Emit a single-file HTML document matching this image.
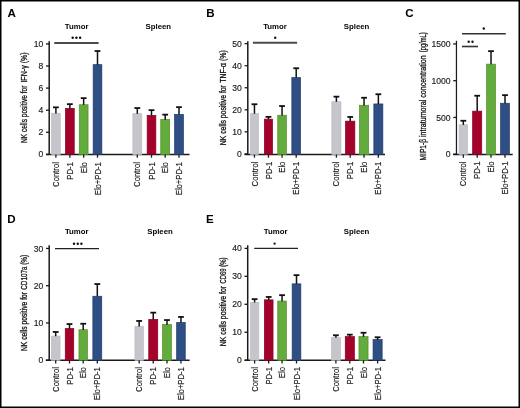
<!DOCTYPE html>
<html><head><meta charset="utf-8"><style>
html,body{margin:0;padding:0;background:#fff;}
body{width:520px;height:408px;overflow:hidden;}
svg{display:block;will-change:transform;-webkit-font-smoothing:antialiased;font-family:"Liberation Sans",sans-serif;}
</style></head><body>
<svg width="520" height="408" viewBox="0 0 520 408">
<rect x="0" y="0" width="520" height="408" fill="#fff"/>
<text x="7.50" y="16.80" font-size="11.6" text-anchor="start" font-weight="bold" fill="#000">A</text>
<line x1="49.20" y1="41.30" x2="49.20" y2="155.10" stroke="#1a1a1a" stroke-width="1.5"/>
<line x1="46.00" y1="154.50" x2="189.50" y2="154.50" stroke="#1a1a1a" stroke-width="1.5"/>
<line x1="46.00" y1="154.40" x2="49.20" y2="154.40" stroke="#1a1a1a" stroke-width="1.3"/>
<text x="43.30" y="157.45" font-size="8.6" text-anchor="end" fill="#222" stroke="#222" stroke-width="0.15">0</text>
<line x1="46.00" y1="132.30" x2="49.20" y2="132.30" stroke="#1a1a1a" stroke-width="1.3"/>
<text x="43.30" y="135.35" font-size="8.6" text-anchor="end" fill="#222" stroke="#222" stroke-width="0.15">2</text>
<line x1="46.00" y1="110.20" x2="49.20" y2="110.20" stroke="#1a1a1a" stroke-width="1.3"/>
<text x="43.30" y="113.25" font-size="8.6" text-anchor="end" fill="#222" stroke="#222" stroke-width="0.15">4</text>
<line x1="46.00" y1="88.10" x2="49.20" y2="88.10" stroke="#1a1a1a" stroke-width="1.3"/>
<text x="43.30" y="91.15" font-size="8.6" text-anchor="end" fill="#222" stroke="#222" stroke-width="0.15">6</text>
<line x1="46.00" y1="66.00" x2="49.20" y2="66.00" stroke="#1a1a1a" stroke-width="1.3"/>
<text x="43.30" y="69.05" font-size="8.6" text-anchor="end" fill="#222" stroke="#222" stroke-width="0.15">8</text>
<line x1="46.00" y1="43.90" x2="49.20" y2="43.90" stroke="#1a1a1a" stroke-width="1.3"/>
<text x="43.30" y="46.95" font-size="8.6" text-anchor="end" fill="#222" stroke="#222" stroke-width="0.15">10</text>
<rect x="51.55" y="113.25" width="8.70" height="41.25" fill="#c6c5cb" stroke="#bdbcc2" stroke-width="0.7"/>
<line x1="55.90" y1="107.30" x2="55.90" y2="113.40" stroke="#111" stroke-width="1.5"/>
<line x1="53.00" y1="107.35" x2="58.80" y2="107.35" stroke="#111" stroke-width="1.8"/>
<line x1="55.90" y1="154.50" x2="55.90" y2="157.70" stroke="#1a1a1a" stroke-width="1.3"/>
<text x="59.00" y="162.10" font-size="9.2" text-anchor="end" transform="rotate(-90 59.00 162.10) translate(59.00 162.10) scale(0.838 1) translate(-59.00 -162.10)" fill="#1a1a1a" stroke="#1a1a1a" stroke-width="0.18">Control</text>
<rect x="65.45" y="108.35" width="8.80" height="46.15" fill="#a5022b" stroke="#85001f" stroke-width="0.7"/>
<line x1="69.85" y1="104.10" x2="69.85" y2="108.50" stroke="#111" stroke-width="1.5"/>
<line x1="66.95" y1="104.15" x2="72.75" y2="104.15" stroke="#111" stroke-width="1.8"/>
<line x1="69.85" y1="154.50" x2="69.85" y2="157.70" stroke="#1a1a1a" stroke-width="1.3"/>
<text x="72.95" y="162.10" font-size="9.2" text-anchor="end" transform="rotate(-90 72.95 162.10) translate(72.95 162.10) scale(0.838 1) translate(-72.95 -162.10)" fill="#1a1a1a" stroke="#1a1a1a" stroke-width="0.18">PD-1</text>
<rect x="79.25" y="104.75" width="8.80" height="49.75" fill="#64ab3e" stroke="#4f8f2c" stroke-width="0.7"/>
<line x1="83.65" y1="98.10" x2="83.65" y2="104.90" stroke="#111" stroke-width="1.5"/>
<line x1="80.75" y1="98.15" x2="86.55" y2="98.15" stroke="#111" stroke-width="1.8"/>
<line x1="83.65" y1="154.50" x2="83.65" y2="157.70" stroke="#1a1a1a" stroke-width="1.3"/>
<text x="86.75" y="162.10" font-size="9.2" text-anchor="end" transform="rotate(-90 86.75 162.10) translate(86.75 162.10) scale(0.838 1) translate(-86.75 -162.10)" fill="#1a1a1a" stroke="#1a1a1a" stroke-width="0.18">Elo</text>
<rect x="93.15" y="64.65" width="8.70" height="89.85" fill="#2e4e84" stroke="#213d6c" stroke-width="0.7"/>
<line x1="97.50" y1="51.00" x2="97.50" y2="64.80" stroke="#111" stroke-width="1.5"/>
<line x1="94.60" y1="51.05" x2="100.40" y2="51.05" stroke="#111" stroke-width="1.8"/>
<line x1="97.50" y1="154.50" x2="97.50" y2="157.70" stroke="#1a1a1a" stroke-width="1.3"/>
<text x="100.60" y="162.10" font-size="9.2" text-anchor="end" transform="rotate(-90 100.60 162.10) translate(100.60 162.10) scale(0.838 1) translate(-100.60 -162.10)" fill="#1a1a1a" stroke="#1a1a1a" stroke-width="0.18">Elo+PD-1</text>
<rect x="132.85" y="113.65" width="8.90" height="40.85" fill="#c6c5cb" stroke="#bdbcc2" stroke-width="0.7"/>
<line x1="137.30" y1="108.00" x2="137.30" y2="113.80" stroke="#111" stroke-width="1.5"/>
<line x1="134.40" y1="108.05" x2="140.20" y2="108.05" stroke="#111" stroke-width="1.8"/>
<line x1="137.30" y1="154.50" x2="137.30" y2="157.70" stroke="#1a1a1a" stroke-width="1.3"/>
<text x="140.40" y="162.10" font-size="9.2" text-anchor="end" transform="rotate(-90 140.40 162.10) translate(140.40 162.10) scale(0.838 1) translate(-140.40 -162.10)" fill="#1a1a1a" stroke="#1a1a1a" stroke-width="0.18">Control</text>
<rect x="147.15" y="115.35" width="8.70" height="39.15" fill="#a5022b" stroke="#85001f" stroke-width="0.7"/>
<line x1="151.50" y1="110.10" x2="151.50" y2="115.50" stroke="#111" stroke-width="1.5"/>
<line x1="148.60" y1="110.15" x2="154.40" y2="110.15" stroke="#111" stroke-width="1.8"/>
<line x1="151.50" y1="154.50" x2="151.50" y2="157.70" stroke="#1a1a1a" stroke-width="1.3"/>
<text x="154.60" y="162.10" font-size="9.2" text-anchor="end" transform="rotate(-90 154.60 162.10) translate(154.60 162.10) scale(0.838 1) translate(-154.60 -162.10)" fill="#1a1a1a" stroke="#1a1a1a" stroke-width="0.18">PD-1</text>
<rect x="160.75" y="119.55" width="8.90" height="34.95" fill="#64ab3e" stroke="#4f8f2c" stroke-width="0.7"/>
<line x1="165.20" y1="114.60" x2="165.20" y2="119.70" stroke="#111" stroke-width="1.5"/>
<line x1="162.30" y1="114.65" x2="168.10" y2="114.65" stroke="#111" stroke-width="1.8"/>
<line x1="165.20" y1="154.50" x2="165.20" y2="157.70" stroke="#1a1a1a" stroke-width="1.3"/>
<text x="168.30" y="162.10" font-size="9.2" text-anchor="end" transform="rotate(-90 168.30 162.10) translate(168.30 162.10) scale(0.838 1) translate(-168.30 -162.10)" fill="#1a1a1a" stroke="#1a1a1a" stroke-width="0.18">Elo</text>
<rect x="174.55" y="114.45" width="8.90" height="40.05" fill="#2e4e84" stroke="#213d6c" stroke-width="0.7"/>
<line x1="179.00" y1="107.10" x2="179.00" y2="114.60" stroke="#111" stroke-width="1.5"/>
<line x1="176.10" y1="107.15" x2="181.90" y2="107.15" stroke="#111" stroke-width="1.8"/>
<line x1="179.00" y1="154.50" x2="179.00" y2="157.70" stroke="#1a1a1a" stroke-width="1.3"/>
<text x="182.10" y="162.10" font-size="9.2" text-anchor="end" transform="rotate(-90 182.10 162.10) translate(182.10 162.10) scale(0.838 1) translate(-182.10 -162.10)" fill="#1a1a1a" stroke="#1a1a1a" stroke-width="0.18">Elo+PD-1</text>
<text x="76.60" y="29.10" font-size="7.8" text-anchor="middle" font-weight="bold" fill="#000">Tumor</text>
<text x="158.30" y="29.10" font-size="7.8" text-anchor="middle" font-weight="bold" fill="#000">Spleen</text>
<line x1="54.30" y1="42.90" x2="98.60" y2="42.90" stroke="#4a4a4a" stroke-width="2.0"/>
<circle cx="72.70" cy="37.80" r="1.25" fill="#111"/>
<circle cx="76.40" cy="37.80" r="1.25" fill="#111"/>
<circle cx="80.10" cy="37.80" r="1.25" fill="#111"/>
<text transform="translate(27.00 143.00) rotate(-90) scale(0.6894 1)" font-size="9.5" stroke="#111" stroke-width="0.3" fill="#111">NK cells positive for</text>
<text transform="translate(27.00 82.60) rotate(-90) scale(0.7477 1)" font-size="9.5" stroke="#111" stroke-width="0.3" fill="#111">IFN-γ (%)</text>
<text x="206.30" y="16.90" font-size="11.6" text-anchor="start" font-weight="bold" fill="#000">B</text>
<line x1="247.80" y1="41.20" x2="247.80" y2="155.10" stroke="#1a1a1a" stroke-width="1.5"/>
<line x1="244.50" y1="154.50" x2="385.00" y2="154.50" stroke="#1a1a1a" stroke-width="1.5"/>
<line x1="244.60" y1="153.90" x2="247.80" y2="153.90" stroke="#1a1a1a" stroke-width="1.3"/>
<text x="241.90" y="156.95" font-size="8.6" text-anchor="end" fill="#222" stroke="#222" stroke-width="0.15">0</text>
<line x1="244.60" y1="131.85" x2="247.80" y2="131.85" stroke="#1a1a1a" stroke-width="1.3"/>
<text x="241.90" y="134.90" font-size="8.6" text-anchor="end" fill="#222" stroke="#222" stroke-width="0.15">10</text>
<line x1="244.60" y1="109.80" x2="247.80" y2="109.80" stroke="#1a1a1a" stroke-width="1.3"/>
<text x="241.90" y="112.85" font-size="8.6" text-anchor="end" fill="#222" stroke="#222" stroke-width="0.15">20</text>
<line x1="244.60" y1="87.75" x2="247.80" y2="87.75" stroke="#1a1a1a" stroke-width="1.3"/>
<text x="241.90" y="90.80" font-size="8.6" text-anchor="end" fill="#222" stroke="#222" stroke-width="0.15">30</text>
<line x1="244.60" y1="65.70" x2="247.80" y2="65.70" stroke="#1a1a1a" stroke-width="1.3"/>
<text x="241.90" y="68.75" font-size="8.6" text-anchor="end" fill="#222" stroke="#222" stroke-width="0.15">40</text>
<line x1="244.60" y1="43.65" x2="247.80" y2="43.65" stroke="#1a1a1a" stroke-width="1.3"/>
<text x="241.90" y="46.70" font-size="8.6" text-anchor="end" fill="#222" stroke="#222" stroke-width="0.15">50</text>
<rect x="250.35" y="113.55" width="8.20" height="40.95" fill="#c6c5cb" stroke="#bdbcc2" stroke-width="0.7"/>
<line x1="254.45" y1="104.20" x2="254.45" y2="113.70" stroke="#111" stroke-width="1.5"/>
<line x1="251.55" y1="104.25" x2="257.35" y2="104.25" stroke="#111" stroke-width="1.8"/>
<line x1="254.45" y1="154.50" x2="254.45" y2="157.70" stroke="#1a1a1a" stroke-width="1.3"/>
<text x="257.55" y="161.60" font-size="9.2" text-anchor="end" transform="rotate(-90 257.55 161.60) translate(257.55 161.60) scale(0.838 1) translate(-257.55 -161.60)" fill="#1a1a1a" stroke="#1a1a1a" stroke-width="0.18">Control</text>
<rect x="264.35" y="119.15" width="8.20" height="35.35" fill="#a5022b" stroke="#85001f" stroke-width="0.7"/>
<line x1="268.45" y1="116.80" x2="268.45" y2="119.30" stroke="#111" stroke-width="1.5"/>
<line x1="265.55" y1="116.85" x2="271.35" y2="116.85" stroke="#111" stroke-width="1.8"/>
<line x1="268.45" y1="154.50" x2="268.45" y2="157.70" stroke="#1a1a1a" stroke-width="1.3"/>
<text x="271.55" y="161.60" font-size="9.2" text-anchor="end" transform="rotate(-90 271.55 161.60) translate(271.55 161.60) scale(0.838 1) translate(-271.55 -161.60)" fill="#1a1a1a" stroke="#1a1a1a" stroke-width="0.18">PD-1</text>
<rect x="277.75" y="115.25" width="8.60" height="39.25" fill="#64ab3e" stroke="#4f8f2c" stroke-width="0.7"/>
<line x1="282.05" y1="106.00" x2="282.05" y2="115.40" stroke="#111" stroke-width="1.5"/>
<line x1="279.15" y1="106.05" x2="284.95" y2="106.05" stroke="#111" stroke-width="1.8"/>
<line x1="282.05" y1="154.50" x2="282.05" y2="157.70" stroke="#1a1a1a" stroke-width="1.3"/>
<text x="285.15" y="161.60" font-size="9.2" text-anchor="end" transform="rotate(-90 285.15 161.60) translate(285.15 161.60) scale(0.838 1) translate(-285.15 -161.60)" fill="#1a1a1a" stroke="#1a1a1a" stroke-width="0.18">Elo</text>
<rect x="291.85" y="77.55" width="8.70" height="76.95" fill="#2e4e84" stroke="#213d6c" stroke-width="0.7"/>
<line x1="296.20" y1="68.20" x2="296.20" y2="77.70" stroke="#111" stroke-width="1.5"/>
<line x1="293.30" y1="68.25" x2="299.10" y2="68.25" stroke="#111" stroke-width="1.8"/>
<line x1="296.20" y1="154.50" x2="296.20" y2="157.70" stroke="#1a1a1a" stroke-width="1.3"/>
<text x="299.30" y="161.60" font-size="9.2" text-anchor="end" transform="rotate(-90 299.30 161.60) translate(299.30 161.60) scale(0.838 1) translate(-299.30 -161.60)" fill="#1a1a1a" stroke="#1a1a1a" stroke-width="0.18">Elo+PD-1</text>
<rect x="331.85" y="101.75" width="9.10" height="52.75" fill="#c6c5cb" stroke="#bdbcc2" stroke-width="0.7"/>
<line x1="336.40" y1="96.60" x2="336.40" y2="101.90" stroke="#111" stroke-width="1.5"/>
<line x1="333.50" y1="96.65" x2="339.30" y2="96.65" stroke="#111" stroke-width="1.8"/>
<line x1="336.40" y1="154.50" x2="336.40" y2="157.70" stroke="#1a1a1a" stroke-width="1.3"/>
<text x="339.50" y="161.60" font-size="9.2" text-anchor="end" transform="rotate(-90 339.50 161.60) translate(339.50 161.60) scale(0.838 1) translate(-339.50 -161.60)" fill="#1a1a1a" stroke="#1a1a1a" stroke-width="0.18">Control</text>
<rect x="345.55" y="121.15" width="9.30" height="33.35" fill="#a5022b" stroke="#85001f" stroke-width="0.7"/>
<line x1="350.20" y1="116.90" x2="350.20" y2="121.30" stroke="#111" stroke-width="1.5"/>
<line x1="347.30" y1="116.95" x2="353.10" y2="116.95" stroke="#111" stroke-width="1.8"/>
<line x1="350.20" y1="154.50" x2="350.20" y2="157.70" stroke="#1a1a1a" stroke-width="1.3"/>
<text x="353.30" y="161.60" font-size="9.2" text-anchor="end" transform="rotate(-90 353.30 161.60) translate(353.30 161.60) scale(0.838 1) translate(-353.30 -161.60)" fill="#1a1a1a" stroke="#1a1a1a" stroke-width="0.18">PD-1</text>
<rect x="359.45" y="105.25" width="9.20" height="49.25" fill="#64ab3e" stroke="#4f8f2c" stroke-width="0.7"/>
<line x1="364.05" y1="97.70" x2="364.05" y2="105.40" stroke="#111" stroke-width="1.5"/>
<line x1="361.15" y1="97.75" x2="366.95" y2="97.75" stroke="#111" stroke-width="1.8"/>
<line x1="364.05" y1="154.50" x2="364.05" y2="157.70" stroke="#1a1a1a" stroke-width="1.3"/>
<text x="367.15" y="161.60" font-size="9.2" text-anchor="end" transform="rotate(-90 367.15 161.60) translate(367.15 161.60) scale(0.838 1) translate(-367.15 -161.60)" fill="#1a1a1a" stroke="#1a1a1a" stroke-width="0.18">Elo</text>
<rect x="373.85" y="103.95" width="9.00" height="50.55" fill="#2e4e84" stroke="#213d6c" stroke-width="0.7"/>
<line x1="378.35" y1="94.20" x2="378.35" y2="104.10" stroke="#111" stroke-width="1.5"/>
<line x1="375.45" y1="94.25" x2="381.25" y2="94.25" stroke="#111" stroke-width="1.8"/>
<line x1="378.35" y1="154.50" x2="378.35" y2="157.70" stroke="#1a1a1a" stroke-width="1.3"/>
<text x="381.45" y="161.60" font-size="9.2" text-anchor="end" transform="rotate(-90 381.45 161.60) translate(381.45 161.60) scale(0.838 1) translate(-381.45 -161.60)" fill="#1a1a1a" stroke="#1a1a1a" stroke-width="0.18">Elo+PD-1</text>
<text x="275.00" y="29.10" font-size="7.8" text-anchor="middle" font-weight="bold" fill="#000">Tumor</text>
<text x="356.60" y="29.10" font-size="7.8" text-anchor="middle" font-weight="bold" fill="#000">Spleen</text>
<line x1="252.90" y1="42.80" x2="297.10" y2="42.80" stroke="#4a4a4a" stroke-width="1.9"/>
<circle cx="275.20" cy="37.70" r="1.2" fill="#111"/>
<text transform="translate(225.80 145.20) rotate(-90) scale(0.7217 1)" font-size="9.5" stroke="#111" stroke-width="0.3" fill="#111">NK cells positive for</text>
<text transform="translate(225.80 82.80) rotate(-90) scale(0.7317 1)" font-size="9.5" stroke="#111" stroke-width="0.3" fill="#111">TNF-α (%)</text>
<text x="405.30" y="17.20" font-size="11.6" text-anchor="start" font-weight="bold" fill="#000">C</text>
<line x1="456.45" y1="40.80" x2="456.45" y2="155.05" stroke="#1a1a1a" stroke-width="1.25"/>
<line x1="453.00" y1="154.45" x2="512.70" y2="154.45" stroke="#1a1a1a" stroke-width="1.5"/>
<line x1="453.25" y1="154.20" x2="456.45" y2="154.20" stroke="#1a1a1a" stroke-width="1.3"/>
<text x="450.55" y="157.25" font-size="8.6" text-anchor="end" fill="#222" stroke="#222" stroke-width="0.15">0</text>
<line x1="453.25" y1="117.45" x2="456.45" y2="117.45" stroke="#1a1a1a" stroke-width="1.3"/>
<text x="450.55" y="120.50" font-size="8.6" text-anchor="end" fill="#222" stroke="#222" stroke-width="0.15">500</text>
<line x1="453.25" y1="80.70" x2="456.45" y2="80.70" stroke="#1a1a1a" stroke-width="1.3"/>
<text x="450.55" y="83.75" font-size="8.6" text-anchor="end" fill="#222" stroke="#222" stroke-width="0.15">1000</text>
<line x1="453.25" y1="43.95" x2="456.45" y2="43.95" stroke="#1a1a1a" stroke-width="1.3"/>
<text x="450.55" y="47.00" font-size="8.6" text-anchor="end" fill="#222" stroke="#222" stroke-width="0.15">1500</text>
<rect x="459.10" y="124.75" width="8.45" height="29.70" fill="#c6c5cb" stroke="#bdbcc2" stroke-width="0.7"/>
<line x1="463.32" y1="120.70" x2="463.32" y2="124.90" stroke="#111" stroke-width="1.5"/>
<line x1="460.43" y1="120.75" x2="466.22" y2="120.75" stroke="#111" stroke-width="1.8"/>
<line x1="463.32" y1="154.45" x2="463.32" y2="157.65" stroke="#1a1a1a" stroke-width="1.3"/>
<text x="466.43" y="161.45" font-size="9.2" text-anchor="end" transform="rotate(-90 466.43 161.45) translate(466.43 161.45) scale(0.838 1) translate(-466.43 -161.45)" fill="#1a1a1a" stroke="#1a1a1a" stroke-width="0.18">Control</text>
<rect x="472.65" y="111.15" width="9.10" height="43.30" fill="#a5022b" stroke="#85001f" stroke-width="0.7"/>
<line x1="477.20" y1="95.70" x2="477.20" y2="111.30" stroke="#111" stroke-width="1.5"/>
<line x1="474.30" y1="95.75" x2="480.10" y2="95.75" stroke="#111" stroke-width="1.8"/>
<line x1="477.20" y1="154.45" x2="477.20" y2="157.65" stroke="#1a1a1a" stroke-width="1.3"/>
<text x="480.30" y="161.45" font-size="9.2" text-anchor="end" transform="rotate(-90 480.30 161.45) translate(480.30 161.45) scale(0.838 1) translate(-480.30 -161.45)" fill="#1a1a1a" stroke="#1a1a1a" stroke-width="0.18">PD-1</text>
<rect x="486.60" y="64.15" width="8.85" height="90.30" fill="#64ab3e" stroke="#4f8f2c" stroke-width="0.7"/>
<line x1="491.02" y1="51.10" x2="491.02" y2="64.30" stroke="#111" stroke-width="1.5"/>
<line x1="488.12" y1="51.15" x2="493.92" y2="51.15" stroke="#111" stroke-width="1.8"/>
<line x1="491.02" y1="154.45" x2="491.02" y2="157.65" stroke="#1a1a1a" stroke-width="1.3"/>
<text x="494.12" y="161.45" font-size="9.2" text-anchor="end" transform="rotate(-90 494.12 161.45) translate(494.12 161.45) scale(0.838 1) translate(-494.12 -161.45)" fill="#1a1a1a" stroke="#1a1a1a" stroke-width="0.18">Elo</text>
<rect x="500.55" y="103.25" width="8.90" height="51.20" fill="#2e4e84" stroke="#213d6c" stroke-width="0.7"/>
<line x1="505.00" y1="95.10" x2="505.00" y2="103.40" stroke="#111" stroke-width="1.5"/>
<line x1="502.10" y1="95.15" x2="507.90" y2="95.15" stroke="#111" stroke-width="1.8"/>
<line x1="505.00" y1="154.45" x2="505.00" y2="157.65" stroke="#1a1a1a" stroke-width="1.3"/>
<text x="508.10" y="161.45" font-size="9.2" text-anchor="end" transform="rotate(-90 508.10 161.45) translate(508.10 161.45) scale(0.838 1) translate(-508.10 -161.45)" fill="#1a1a1a" stroke="#1a1a1a" stroke-width="0.18">Elo+PD-1</text>
<line x1="462.00" y1="33.70" x2="505.80" y2="33.70" stroke="#333" stroke-width="1.6"/>
<circle cx="483.80" cy="28.50" r="1.2" fill="#111"/>
<line x1="462.00" y1="46.50" x2="478.00" y2="46.50" stroke="#333" stroke-width="1.6"/>
<circle cx="468.70" cy="41.70" r="1.2" fill="#111"/>
<circle cx="472.50" cy="41.70" r="1.2" fill="#111"/>
<text transform="translate(425.50 160.50) rotate(-90) scale(0.7018 1)" font-size="9.5" stroke="#111" stroke-width="0.3" fill="#111">MIP1-β</text>
<text transform="translate(425.50 137.00) rotate(-90) scale(0.7449 1)" font-size="9.5" stroke="#111" stroke-width="0.3" fill="#111">intratumoral concentration</text>
<text transform="translate(425.50 52.30) rotate(-90) scale(0.6133 1)" font-size="9.5" stroke="#111" stroke-width="0.3" fill="#111">(pg/mL)</text>
<text x="7.30" y="222.60" font-size="11.6" text-anchor="start" font-weight="bold" fill="#000">D</text>
<line x1="49.20" y1="245.30" x2="49.20" y2="360.90" stroke="#1a1a1a" stroke-width="1.5"/>
<line x1="45.80" y1="360.30" x2="189.60" y2="360.30" stroke="#1a1a1a" stroke-width="1.5"/>
<line x1="46.00" y1="360.20" x2="49.20" y2="360.20" stroke="#1a1a1a" stroke-width="1.3"/>
<text x="43.30" y="363.25" font-size="8.6" text-anchor="end" fill="#222" stroke="#222" stroke-width="0.15">0</text>
<line x1="46.00" y1="322.95" x2="49.20" y2="322.95" stroke="#1a1a1a" stroke-width="1.3"/>
<text x="43.30" y="326.00" font-size="8.6" text-anchor="end" fill="#222" stroke="#222" stroke-width="0.15">10</text>
<line x1="46.00" y1="285.70" x2="49.20" y2="285.70" stroke="#1a1a1a" stroke-width="1.3"/>
<text x="43.30" y="288.75" font-size="8.6" text-anchor="end" fill="#222" stroke="#222" stroke-width="0.15">20</text>
<line x1="46.00" y1="248.45" x2="49.20" y2="248.45" stroke="#1a1a1a" stroke-width="1.3"/>
<text x="43.30" y="251.50" font-size="8.6" text-anchor="end" fill="#222" stroke="#222" stroke-width="0.15">30</text>
<rect x="51.35" y="336.05" width="8.70" height="24.25" fill="#c6c5cb" stroke="#bdbcc2" stroke-width="0.7"/>
<line x1="55.70" y1="331.90" x2="55.70" y2="336.20" stroke="#111" stroke-width="1.5"/>
<line x1="52.80" y1="331.95" x2="58.60" y2="331.95" stroke="#111" stroke-width="1.8"/>
<line x1="55.70" y1="360.30" x2="55.70" y2="363.50" stroke="#1a1a1a" stroke-width="1.3"/>
<text x="58.80" y="367.10" font-size="9.2" text-anchor="end" transform="rotate(-90 58.80 367.10) translate(58.80 367.10) scale(0.838 1) translate(-58.80 -367.10)" fill="#1a1a1a" stroke="#1a1a1a" stroke-width="0.18">Control</text>
<rect x="65.25" y="328.55" width="8.50" height="31.75" fill="#a5022b" stroke="#85001f" stroke-width="0.7"/>
<line x1="69.50" y1="324.00" x2="69.50" y2="328.70" stroke="#111" stroke-width="1.5"/>
<line x1="66.60" y1="324.05" x2="72.40" y2="324.05" stroke="#111" stroke-width="1.8"/>
<line x1="69.50" y1="360.30" x2="69.50" y2="363.50" stroke="#1a1a1a" stroke-width="1.3"/>
<text x="72.60" y="367.10" font-size="9.2" text-anchor="end" transform="rotate(-90 72.60 367.10) translate(72.60 367.10) scale(0.838 1) translate(-72.60 -367.10)" fill="#1a1a1a" stroke="#1a1a1a" stroke-width="0.18">PD-1</text>
<rect x="78.95" y="329.75" width="8.50" height="30.55" fill="#64ab3e" stroke="#4f8f2c" stroke-width="0.7"/>
<line x1="83.20" y1="323.70" x2="83.20" y2="329.90" stroke="#111" stroke-width="1.5"/>
<line x1="80.30" y1="323.75" x2="86.10" y2="323.75" stroke="#111" stroke-width="1.8"/>
<line x1="83.20" y1="360.30" x2="83.20" y2="363.50" stroke="#1a1a1a" stroke-width="1.3"/>
<text x="86.30" y="367.10" font-size="9.2" text-anchor="end" transform="rotate(-90 86.30 367.10) translate(86.30 367.10) scale(0.838 1) translate(-86.30 -367.10)" fill="#1a1a1a" stroke="#1a1a1a" stroke-width="0.18">Elo</text>
<rect x="92.85" y="296.25" width="8.90" height="64.05" fill="#2e4e84" stroke="#213d6c" stroke-width="0.7"/>
<line x1="97.30" y1="284.00" x2="97.30" y2="296.40" stroke="#111" stroke-width="1.5"/>
<line x1="94.40" y1="284.05" x2="100.20" y2="284.05" stroke="#111" stroke-width="1.8"/>
<line x1="97.30" y1="360.30" x2="97.30" y2="363.50" stroke="#1a1a1a" stroke-width="1.3"/>
<text x="100.40" y="367.10" font-size="9.2" text-anchor="end" transform="rotate(-90 100.40 367.10) translate(100.40 367.10) scale(0.838 1) translate(-100.40 -367.10)" fill="#1a1a1a" stroke="#1a1a1a" stroke-width="0.18">Elo+PD-1</text>
<rect x="134.95" y="326.35" width="8.40" height="33.95" fill="#c6c5cb" stroke="#bdbcc2" stroke-width="0.7"/>
<line x1="139.15" y1="320.90" x2="139.15" y2="326.50" stroke="#111" stroke-width="1.5"/>
<line x1="136.25" y1="320.95" x2="142.05" y2="320.95" stroke="#111" stroke-width="1.8"/>
<line x1="139.15" y1="360.30" x2="139.15" y2="363.50" stroke="#1a1a1a" stroke-width="1.3"/>
<text x="142.25" y="367.10" font-size="9.2" text-anchor="end" transform="rotate(-90 142.25 367.10) translate(142.25 367.10) scale(0.838 1) translate(-142.25 -367.10)" fill="#1a1a1a" stroke="#1a1a1a" stroke-width="0.18">Control</text>
<rect x="148.75" y="319.35" width="9.00" height="40.95" fill="#a5022b" stroke="#85001f" stroke-width="0.7"/>
<line x1="153.25" y1="312.60" x2="153.25" y2="319.50" stroke="#111" stroke-width="1.5"/>
<line x1="150.35" y1="312.65" x2="156.15" y2="312.65" stroke="#111" stroke-width="1.8"/>
<line x1="153.25" y1="360.30" x2="153.25" y2="363.50" stroke="#1a1a1a" stroke-width="1.3"/>
<text x="156.35" y="367.10" font-size="9.2" text-anchor="end" transform="rotate(-90 156.35 367.10) translate(156.35 367.10) scale(0.838 1) translate(-156.35 -367.10)" fill="#1a1a1a" stroke="#1a1a1a" stroke-width="0.18">PD-1</text>
<rect x="162.55" y="324.55" width="8.90" height="35.75" fill="#64ab3e" stroke="#4f8f2c" stroke-width="0.7"/>
<line x1="167.00" y1="320.00" x2="167.00" y2="324.70" stroke="#111" stroke-width="1.5"/>
<line x1="164.10" y1="320.05" x2="169.90" y2="320.05" stroke="#111" stroke-width="1.8"/>
<line x1="167.00" y1="360.30" x2="167.00" y2="363.50" stroke="#1a1a1a" stroke-width="1.3"/>
<text x="170.10" y="367.10" font-size="9.2" text-anchor="end" transform="rotate(-90 170.10 367.10) translate(170.10 367.10) scale(0.838 1) translate(-170.10 -367.10)" fill="#1a1a1a" stroke="#1a1a1a" stroke-width="0.18">Elo</text>
<rect x="176.65" y="322.45" width="8.60" height="37.85" fill="#2e4e84" stroke="#213d6c" stroke-width="0.7"/>
<line x1="180.95" y1="316.90" x2="180.95" y2="322.60" stroke="#111" stroke-width="1.5"/>
<line x1="178.05" y1="316.95" x2="183.85" y2="316.95" stroke="#111" stroke-width="1.8"/>
<line x1="180.95" y1="360.30" x2="180.95" y2="363.50" stroke="#1a1a1a" stroke-width="1.3"/>
<text x="184.05" y="367.10" font-size="9.2" text-anchor="end" transform="rotate(-90 184.05 367.10) translate(184.05 367.10) scale(0.838 1) translate(-184.05 -367.10)" fill="#1a1a1a" stroke="#1a1a1a" stroke-width="0.18">Elo+PD-1</text>
<text x="76.75" y="234.10" font-size="7.8" text-anchor="middle" font-weight="bold" fill="#000">Tumor</text>
<text x="160.00" y="234.10" font-size="7.8" text-anchor="middle" font-weight="bold" fill="#000">Spleen</text>
<line x1="55.00" y1="248.60" x2="99.00" y2="248.60" stroke="#222" stroke-width="1.4"/>
<circle cx="74.00" cy="243.70" r="1.2" fill="#111"/>
<circle cx="77.70" cy="243.70" r="1.2" fill="#111"/>
<circle cx="81.40" cy="243.70" r="1.2" fill="#111"/>
<text transform="translate(26.60 351.00) rotate(-90) scale(0.7085 1)" font-size="9.5" stroke="#111" stroke-width="0.3" fill="#111">NK cells positive for</text>
<text transform="translate(26.60 289.70) rotate(-90) scale(0.6660 1)" font-size="9.5" stroke="#111" stroke-width="0.3" fill="#111">CD107a (%)</text>
<text x="206.00" y="222.60" font-size="11.6" text-anchor="start" font-weight="bold" fill="#000">E</text>
<line x1="247.70" y1="245.30" x2="247.70" y2="360.90" stroke="#1a1a1a" stroke-width="1.5"/>
<line x1="244.60" y1="360.30" x2="385.50" y2="360.30" stroke="#1a1a1a" stroke-width="1.5"/>
<line x1="244.50" y1="360.20" x2="247.70" y2="360.20" stroke="#1a1a1a" stroke-width="1.3"/>
<text x="241.80" y="363.25" font-size="8.6" text-anchor="end" fill="#222" stroke="#222" stroke-width="0.15">0</text>
<line x1="244.50" y1="332.25" x2="247.70" y2="332.25" stroke="#1a1a1a" stroke-width="1.3"/>
<text x="241.80" y="335.30" font-size="8.6" text-anchor="end" fill="#222" stroke="#222" stroke-width="0.15">10</text>
<line x1="244.50" y1="304.30" x2="247.70" y2="304.30" stroke="#1a1a1a" stroke-width="1.3"/>
<text x="241.80" y="307.35" font-size="8.6" text-anchor="end" fill="#222" stroke="#222" stroke-width="0.15">20</text>
<line x1="244.50" y1="276.35" x2="247.70" y2="276.35" stroke="#1a1a1a" stroke-width="1.3"/>
<text x="241.80" y="279.40" font-size="8.6" text-anchor="end" fill="#222" stroke="#222" stroke-width="0.15">30</text>
<line x1="244.50" y1="248.40" x2="247.70" y2="248.40" stroke="#1a1a1a" stroke-width="1.3"/>
<text x="241.80" y="251.45" font-size="8.6" text-anchor="end" fill="#222" stroke="#222" stroke-width="0.15">40</text>
<rect x="250.35" y="302.35" width="8.50" height="57.95" fill="#c6c5cb" stroke="#bdbcc2" stroke-width="0.7"/>
<line x1="254.60" y1="299.10" x2="254.60" y2="302.50" stroke="#111" stroke-width="1.5"/>
<line x1="251.70" y1="299.15" x2="257.50" y2="299.15" stroke="#111" stroke-width="1.8"/>
<line x1="254.60" y1="360.30" x2="254.60" y2="363.50" stroke="#1a1a1a" stroke-width="1.3"/>
<text x="257.70" y="367.00" font-size="9.2" text-anchor="end" transform="rotate(-90 257.70 367.00) translate(257.70 367.00) scale(0.838 1) translate(-257.70 -367.00)" fill="#1a1a1a" stroke="#1a1a1a" stroke-width="0.18">Control</text>
<rect x="264.35" y="299.85" width="8.70" height="60.45" fill="#a5022b" stroke="#85001f" stroke-width="0.7"/>
<line x1="268.70" y1="296.90" x2="268.70" y2="300.00" stroke="#111" stroke-width="1.5"/>
<line x1="265.80" y1="296.95" x2="271.60" y2="296.95" stroke="#111" stroke-width="1.8"/>
<line x1="268.70" y1="360.30" x2="268.70" y2="363.50" stroke="#1a1a1a" stroke-width="1.3"/>
<text x="271.80" y="367.00" font-size="9.2" text-anchor="end" transform="rotate(-90 271.80 367.00) translate(271.80 367.00) scale(0.838 1) translate(-271.80 -367.00)" fill="#1a1a1a" stroke="#1a1a1a" stroke-width="0.18">PD-1</text>
<rect x="277.75" y="301.05" width="8.60" height="59.25" fill="#64ab3e" stroke="#4f8f2c" stroke-width="0.7"/>
<line x1="282.05" y1="295.10" x2="282.05" y2="301.20" stroke="#111" stroke-width="1.5"/>
<line x1="279.15" y1="295.15" x2="284.95" y2="295.15" stroke="#111" stroke-width="1.8"/>
<line x1="282.05" y1="360.30" x2="282.05" y2="363.50" stroke="#1a1a1a" stroke-width="1.3"/>
<text x="285.15" y="367.00" font-size="9.2" text-anchor="end" transform="rotate(-90 285.15 367.00) translate(285.15 367.00) scale(0.838 1) translate(-285.15 -367.00)" fill="#1a1a1a" stroke="#1a1a1a" stroke-width="0.18">Elo</text>
<rect x="292.15" y="283.85" width="8.70" height="76.45" fill="#2e4e84" stroke="#213d6c" stroke-width="0.7"/>
<line x1="296.50" y1="275.10" x2="296.50" y2="284.00" stroke="#111" stroke-width="1.5"/>
<line x1="293.60" y1="275.15" x2="299.40" y2="275.15" stroke="#111" stroke-width="1.8"/>
<line x1="296.50" y1="360.30" x2="296.50" y2="363.50" stroke="#1a1a1a" stroke-width="1.3"/>
<text x="299.60" y="367.00" font-size="9.2" text-anchor="end" transform="rotate(-90 299.60 367.00) translate(299.60 367.00) scale(0.838 1) translate(-299.60 -367.00)" fill="#1a1a1a" stroke="#1a1a1a" stroke-width="0.18">Elo+PD-1</text>
<rect x="331.35" y="337.65" width="9.10" height="22.65" fill="#c6c5cb" stroke="#bdbcc2" stroke-width="0.7"/>
<line x1="335.90" y1="335.20" x2="335.90" y2="337.80" stroke="#111" stroke-width="1.5"/>
<line x1="333.00" y1="335.25" x2="338.80" y2="335.25" stroke="#111" stroke-width="1.8"/>
<line x1="335.90" y1="360.30" x2="335.90" y2="363.50" stroke="#1a1a1a" stroke-width="1.3"/>
<text x="339.00" y="367.00" font-size="9.2" text-anchor="end" transform="rotate(-90 339.00 367.00) translate(339.00 367.00) scale(0.838 1) translate(-339.00 -367.00)" fill="#1a1a1a" stroke="#1a1a1a" stroke-width="0.18">Control</text>
<rect x="345.25" y="336.65" width="9.10" height="23.65" fill="#a5022b" stroke="#85001f" stroke-width="0.7"/>
<line x1="349.80" y1="334.60" x2="349.80" y2="336.80" stroke="#111" stroke-width="1.5"/>
<line x1="346.90" y1="334.65" x2="352.70" y2="334.65" stroke="#111" stroke-width="1.8"/>
<line x1="349.80" y1="360.30" x2="349.80" y2="363.50" stroke="#1a1a1a" stroke-width="1.3"/>
<text x="352.90" y="367.00" font-size="9.2" text-anchor="end" transform="rotate(-90 352.90 367.00) translate(352.90 367.00) scale(0.838 1) translate(-352.90 -367.00)" fill="#1a1a1a" stroke="#1a1a1a" stroke-width="0.18">PD-1</text>
<rect x="358.95" y="336.65" width="9.10" height="23.65" fill="#64ab3e" stroke="#4f8f2c" stroke-width="0.7"/>
<line x1="363.50" y1="332.70" x2="363.50" y2="336.80" stroke="#111" stroke-width="1.5"/>
<line x1="360.60" y1="332.75" x2="366.40" y2="332.75" stroke="#111" stroke-width="1.8"/>
<line x1="363.50" y1="360.30" x2="363.50" y2="363.50" stroke="#1a1a1a" stroke-width="1.3"/>
<text x="366.60" y="367.00" font-size="9.2" text-anchor="end" transform="rotate(-90 366.60 367.00) translate(366.60 367.00) scale(0.838 1) translate(-366.60 -367.00)" fill="#1a1a1a" stroke="#1a1a1a" stroke-width="0.18">Elo</text>
<rect x="373.05" y="339.55" width="9.10" height="20.75" fill="#2e4e84" stroke="#213d6c" stroke-width="0.7"/>
<line x1="377.60" y1="337.20" x2="377.60" y2="339.70" stroke="#111" stroke-width="1.5"/>
<line x1="374.70" y1="337.25" x2="380.50" y2="337.25" stroke="#111" stroke-width="1.8"/>
<line x1="377.60" y1="360.30" x2="377.60" y2="363.50" stroke="#1a1a1a" stroke-width="1.3"/>
<text x="380.70" y="367.00" font-size="9.2" text-anchor="end" transform="rotate(-90 380.70 367.00) translate(380.70 367.00) scale(0.838 1) translate(-380.70 -367.00)" fill="#1a1a1a" stroke="#1a1a1a" stroke-width="0.18">Elo+PD-1</text>
<text x="275.70" y="234.10" font-size="7.8" text-anchor="middle" font-weight="bold" fill="#000">Tumor</text>
<text x="356.60" y="234.10" font-size="7.8" text-anchor="middle" font-weight="bold" fill="#000">Spleen</text>
<line x1="254.20" y1="248.40" x2="298.00" y2="248.40" stroke="#222" stroke-width="1.4"/>
<circle cx="274.60" cy="243.70" r="1.15" fill="#111"/>
<text transform="translate(225.80 346.30) rotate(-90) scale(0.7253 1)" font-size="9.5" stroke="#111" stroke-width="0.3" fill="#111">NK cells positive for</text>
<text transform="translate(225.80 283.60) rotate(-90) scale(0.6234 1)" font-size="9.5" stroke="#111" stroke-width="0.3" fill="#111">CD69 (%)</text>
<rect x="0.75" y="0.75" width="518.5" height="406.5" fill="none" stroke="#000" stroke-width="1.5"/>
</svg>
</body></html>
